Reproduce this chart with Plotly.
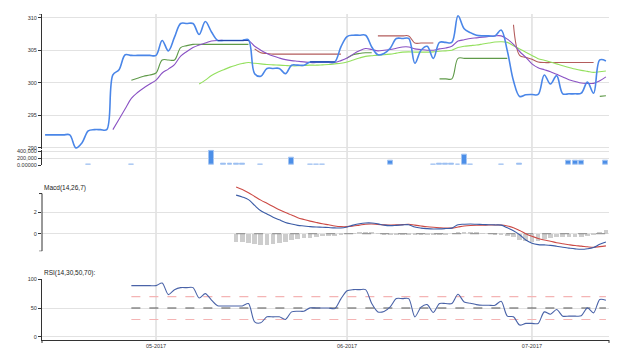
import plotly.graph_objects as go
import pandas as pd

# ---------------- data ----------------
dates = pd.date_range("2017-04-13", periods=92, freq="D")

price = [292.0, 292.0, 292.0, 292.0, 292.0, 290.0, 290.8, 292.6, 292.8, 292.8,
         292.8, 301.2, 302.0, 304.3, 304.2, 304.2, 304.2, 304.2, 304.2, 306.5,
         304.9, 307.0, 309.1, 309.1, 309.1, 307.4, 309.4, 307.8, 306.5, 306.5,
         306.5, 306.5, 306.5, 306.6, 301.4, 301.0, 302.2, 302.2, 302.2, 301.4,
         302.7, 302.7, 302.7, 303.2, 303.2, 303.2, 303.2, 303.2, 305.5, 307.1,
         307.3, 307.3, 307.3, 305.5, 304.3, 304.5, 305.3, 306.8, 306.8, 306.8,
         303.0, 305.0, 305.6, 303.75, 306.2, 306.2, 306.2, 310.3, 308.3, 307.7,
         307.3, 307.2, 307.2, 307.2, 308.1, 304.9, 300.3, 297.9, 298.15, 298.2,
         298.2, 301.2, 299.8, 301.1, 298.3, 298.3, 298.3, 298.4, 300.1, 298.4,
         303.5, 303.35]

purple_start = "2017-04-24"
purple = [292.8, 294.4, 296.0, 297.6, 298.5, 299.2, 299.8, 300.4, 301.5, 302.1,
          302.8, 304.1, 304.8, 305.4, 305.8, 306.1, 306.4, 306.5, 306.5, 306.5,
          306.5, 306.5, 306.5, 305.6, 305.0, 304.5, 304.1, 303.8, 303.55, 303.4,
          303.3, 303.2, 303.1, 303.1, 303.1, 303.1, 303.1, 303.4, 303.8, 304.4,
          304.9, 305.25, 305.1, 304.9, 305.0, 305.1, 305.3, 305.5, 305.5, 305.2,
          305.1, 305.0, 305.0, 305.2, 305.35, 305.6, 306.4, 306.6, 306.8, 306.9,
          307.0, 307.1, 307.2, 307.2, 306.7, 305.9, 304.8, 303.9, 302.9, 302.3,
          302.0, 301.7, 301.3, 300.9, 300.45, 300.2, 299.95, 299.9, 299.9, 300.3,
          300.9]

lightgreen_start = "2017-05-08"
lightgreen = [299.8, 300.4, 301.1, 301.6, 302.0, 302.4, 302.7, 302.95, 303.1, 303.0,
              302.9, 302.8, 302.75, 302.7, 302.65, 302.6, 302.6, 302.65, 302.7, 302.7,
              302.75, 302.8, 302.9, 303.0, 303.2, 303.5, 303.8, 304.05, 304.15, 304.25,
              304.3, 304.4, 304.55, 304.7, 304.75, 304.7, 304.7, 304.7, 304.75, 304.85,
              304.9, 305.0, 305.4, 305.6, 305.7, 305.8, 305.95, 306.1, 306.25, 306.3,
              306.2, 305.7, 305.2, 304.7, 304.2, 303.7, 303.45, 303.2, 302.9, 302.6,
              302.35, 302.1, 301.9, 301.75, 301.6, 301.7, 301.8]

darkgreen_segments = [
    ("2017-04-27", [300.4, 300.7, 301.0, 301.2, 301.5, 303.5, 303.5, 303.5, 305.4, 305.7,
                    305.9, 305.9, 305.9, 305.9, 305.9, 305.9, 305.9, 305.9, 305.9, 305.9]),
    ("2017-06-01", [303.8, 304.3, 304.5, 304.6, 304.6]),
    ("2017-06-16", [300.6, 300.6, 300.6, 303.75, 303.75, 303.75, 303.75, 303.75, 303.75,
                    303.75, 303.75, 303.75]),
    ("2017-07-12", [297.9, 298.0]),
]

brown_segments = [
    ("2017-05-17", [305.2, 304.6, 304.5, 304.4, 304.4, 304.4, 304.4, 304.4, 304.4, 304.4,
                    304.4, 304.4, 304.4, 304.4, 304.4]),
    ("2017-06-06", [307.2, 307.2, 307.2, 307.2, 307.2, 307.2, 306.1, 306.1, 306.1, 306.1]),
    ("2017-06-28", [308.9, 304.2, 303.9, 303.6, 303.2, 303.1, 303.1, 303.1, 303.1, 303.1,
                    303.1, 303.1, 303.1, 303.1]),
]

navy_segments = [
    ("2017-05-11", [306.5, 306.5, 306.5, 306.5, 306.5, 306.5]),
    ("2017-05-26", [303.2, 303.2, 303.2, 303.2, 303.2]),
]

vol_dates = ["2017-04-20", "2017-04-27", "2017-05-10", "2017-05-12", "2017-05-13",
             "2017-05-14", "2017-05-15", "2017-05-18", "2017-05-23", "2017-05-26",
             "2017-05-27", "2017-05-28", "2017-06-08", "2017-06-15", "2017-06-16",
             "2017-06-17", "2017-06-18", "2017-06-19", "2017-06-20", "2017-06-21",
             "2017-06-26", "2017-06-29", "2017-07-07", "2017-07-08", "2017-07-09",
             "2017-07-13"]
vol_values = [8000, 8000, 400000, 45000, 45000, 45000, 30000, 8000, 220000, 10000,
              10000, 10000, 135000, 25000, 50000, 50000, 50000, 20000, 300000, 10000,
              8000, 50000, 125000, 125000, 125000, 125000]

macd_start = "2017-05-14"
macd_line = [3.62, 3.45, 3.2, 2.65, 2.15, 1.85, 1.55, 1.3, 1.05, 0.9,
             0.78, 0.72, 0.66, 0.62, 0.6, 0.57, 0.54, 0.53, 0.63, 0.8,
             0.93, 1.0, 1.0, 0.92, 0.8, 0.75, 0.78, 0.82, 0.84, 0.62,
             0.52, 0.47, 0.44, 0.45, 0.48, 0.52, 0.84, 0.88, 0.9, 0.88,
             0.86, 0.84, 0.82, 0.8, 0.55, 0.28, -0.1, -0.6, -0.9, -1.03,
             -1.06, -1.1, -1.18, -1.28, -1.36, -1.43, -1.47, -1.42, -1.3, -1.0,
             -0.78]
macd_signal = [4.39, 4.15, 3.85, 3.5, 3.15, 2.85, 2.55, 2.25, 1.98, 1.75,
               1.5, 1.33, 1.18, 1.05, 0.93, 0.83, 0.72, 0.66, 0.66, 0.72,
               0.8, 0.88, 0.9, 0.86, 0.83, 0.81, 0.82, 0.85, 0.88, 0.8,
               0.72, 0.65, 0.6, 0.56, 0.53, 0.52, 0.62, 0.72, 0.77, 0.79,
               0.8, 0.81, 0.81, 0.81, 0.72, 0.56, 0.3, 0.0, -0.25, -0.45,
               -0.6, -0.72, -0.85, -0.95, -1.04, -1.12, -1.17, -1.24, -1.28, -1.22,
               -1.15]
macd_hist = [-0.75, -0.75, -0.84, -1.0, -1.05, -1.05, -0.93, -0.84, -0.75, -0.62,
             -0.53, -0.44, -0.37, -0.31, -0.25, -0.22, -0.19, -0.12, 0.0, 0.06,
             0.12, 0.12, 0.1, 0.05, -0.03, -0.05, -0.04, -0.03, -0.04, -0.06,
             -0.06, -0.05, -0.04, -0.03, -0.03, 0.0, 0.12, 0.14, 0.12, 0.09,
             0.05, -0.02, -0.03, -0.04, -0.2, -0.35, -0.62, -0.72, -0.8, -0.7,
             -0.5, -0.38, -0.3, -0.3, -0.3, -0.29, -0.28, -0.22, -0.05, 0.2,
             0.32]

rsi_start = "2017-04-27"
rsi = [89.1, 89.1, 89.1, 89.1, 89.1, 93.6, 73.5, 82.0, 85.6, 85.6,
       85.6, 67.6, 75.2, 64.0, 54.0, 53.7, 53.7, 53.7, 53.7, 57.9,
       26.0, 24.3, 34.7, 34.7, 34.7, 30.2, 43.3, 44.5, 44.5, 50.3,
       50.0, 50.0, 50.0, 49.0, 66.0, 80.0, 82.1, 82.1, 82.1, 58.0,
       43.3, 44.0, 52.0, 66.5, 66.5, 66.5, 34.7, 51.5, 56.0, 42.3,
       57.9, 57.9, 57.9, 74.0, 60.5, 58.5, 56.0, 54.9, 54.9, 54.9,
       61.9, 36.0, 34.7, 20.3, 23.2, 23.2, 23.2, 43.3, 39.3, 47.5,
       35.9, 35.9, 35.9, 36.5, 50.3, 41.6, 64.8, 63.6]
rsi_levels = [70, 50, 30]

price_ticks = [290, 295, 300, 305, 310]
vol_ticks = [0, 200000, 400000]
vol_ticktext = ["0.00000", "200,000", "400,000"]
macd_ticks = [0, 2]
rsi_ticks = [0, 50, 100]
month_ticks = ["2017-05-01", "2017-06-01", "2017-07-01"]
month_labels = ["05-2017", "06-2017", "07-2017"]


# ---------------- helpers ----------------
def run(start, values):
    i = dates.get_loc(pd.Timestamp(start))
    return list(dates[i:i + len(values)]), list(values)


def segs(segments):
    xs, ys = [], []
    for start, vals in segments:
        x, y = run(start, vals)
        xs += x + [None]
        ys += y + [None]
    return xs, ys


DAY = 86400000
fig = go.Figure()

# price panel
for segments, color, w in [(darkgreen_segments, "#5f9a49", 1.1),
                           (brown_segments, "#b35c5c", 1.1)]:
    x, y = segs(segments)
    fig.add_trace(go.Scatter(x=x, y=y, mode="lines", connectgaps=False,
                             line=dict(color=color, width=w, shape="spline"),
                             xaxis="x", yaxis="y"))
x, y = run(lightgreen_start, lightgreen)
fig.add_trace(go.Scatter(x=x, y=y, mode="lines",
                         line=dict(color="#94e05e", width=1.1, shape="spline"),
                         xaxis="x", yaxis="y"))
x, y = run(purple_start, purple)
fig.add_trace(go.Scatter(x=x, y=y, mode="lines",
                         line=dict(color="#8a52c4", width=1.1, shape="spline"),
                         xaxis="x", yaxis="y"))
fig.add_trace(go.Scatter(x=list(dates), y=price, mode="lines",
                         line=dict(color="#4a86e8", width=1.6, shape="spline"),
                         xaxis="x", yaxis="y"))
x, y = segs(navy_segments)
fig.add_trace(go.Scatter(x=x, y=y, mode="lines", connectgaps=False,
                         line=dict(color="#2846a8", width=1.1),
                         xaxis="x", yaxis="y"))

# volume
fig.add_trace(go.Bar(x=vol_dates, y=vol_values, width=0.8 * DAY,
                     marker=dict(color="#4c8fe8", line=dict(color="#a6c6f2", width=1)),
                     xaxis="x", yaxis="y2"))

# MACD
x, y = run(macd_start, macd_hist)
fig.add_trace(go.Bar(x=x, y=y, width=0.75 * DAY,
                     marker=dict(color="#cdcdcd", line=dict(width=0)),
                     xaxis="x", yaxis="y3"))
fig.add_trace(go.Scatter(x=[x[0], x[-1]], y=[0, 0], mode="lines",
                         line=dict(color="#9a9a9a", width=1.2, dash="dash"),
                         xaxis="x", yaxis="y3"))
x, y = run(macd_start, macd_signal)
fig.add_trace(go.Scatter(x=x, y=y, mode="lines",
                         line=dict(color="#cc4a45", width=1.1, shape="spline"),
                         xaxis="x", yaxis="y3"))
x, y = run(macd_start, macd_line)
fig.add_trace(go.Scatter(x=x, y=y, mode="lines",
                         line=dict(color="#3b5ca6", width=1.1, shape="spline"),
                         xaxis="x", yaxis="y3"))

# RSI
xr, yr = run(rsi_start, rsi)
for lvl in rsi_levels:
    fig.add_trace(go.Scatter(x=[xr[0], xr[-1]], y=[lvl, lvl], mode="lines",
                             line=dict(color="#555555" if lvl == 50 else "#f4b4b4",
                                       width=1.1, dash="dash"),
                             xaxis="x", yaxis="y4"))
fig.add_trace(go.Scatter(x=xr, y=yr, mode="lines",
                         line=dict(color="#4a63a8", width=1.1, shape="spline", smoothing=0.8),
                         xaxis="x", yaxis="y4"))

# ---------------- layout ----------------
tickfont = dict(size=5.5, color="#333", family="Liberation Sans, Arial, sans-serif")
yax = dict(showline=True, linecolor="#333", linewidth=1, ticks="outside", ticklen=3,
           tickcolor="#333", tickwidth=1, gridcolor="#e2e2e2", gridwidth=1.4,
           zeroline=False, tickfont=tickfont, anchor="x", fixedrange=True)

PRICE_RANGE = [289.8, 310.56]
MACD_RANGE = [-1.654, 4.673]
RSI_RANGE = [-5.7, 101.2]

# page body has an 8px default margin; the figure is sized so it fits the window
fig.update_layout(
    width=614, height=348,
    margin=dict(l=34, r=13, t=4, b=16),
    paper_bgcolor="white", plot_bgcolor="white",
    showlegend=False, barmode="overlay", bargap=0,
    font=dict(family="Liberation Sans, Arial, sans-serif", size=6, color="#333"),
    xaxis=dict(type="date", range=["2017-04-12 12:00", "2017-07-13 12:00"],
               anchor="y4", showline=True, linecolor="#333", linewidth=1,
               showgrid=False, zeroline=False, ticks="",
               tickvals=month_ticks, ticktext=month_labels, tickfont=tickfont),
    yaxis=dict(yax, domain=[0.5854, 1.0], range=PRICE_RANGE, tickvals=price_ticks),
    yaxis2=dict(yax, domain=[0.5366, 0.5838], range=[0, 443000],
                tickvals=vol_ticks, ticktext=vol_ticktext),
    yaxis3=dict(yax, domain=[0.2723, 0.4787], range=MACD_RANGE,
                tickvals=macd_ticks, showline=False),
    yaxis4=dict(yax, domain=[0.0, 0.1881], range=RSI_RANGE, tickvals=rsi_ticks),
)

shapes = []
for m in month_ticks:
    shapes.append(dict(type="line", xref="x", yref="paper", x0=m, x1=m, y0=0, y1=1,
                       line=dict(color="#dcdcdc", width=1.4), layer="below"))
tk = 3 / 567.0
# MACD axis line with end ticks
shapes.append(dict(type="line", xref="paper", yref="y3", x0=0, x1=0, y0=MACD_RANGE[0], y1=3.77,
                   line=dict(color="#333", width=1)))
for yv in [MACD_RANGE[0], 3.77]:
    shapes.append(dict(type="line", xref="paper", yref="y3", x0=-tk, x1=0, y0=yv, y1=yv,
                       line=dict(color="#333", width=1)))
# price top end tick
shapes.append(dict(type="line", xref="paper", yref="y", x0=-tk, x1=0,
                   y0=PRICE_RANGE[1], y1=PRICE_RANGE[1], line=dict(color="#333", width=1)))
# x axis end ticks
for xv in [0, 1]:
    shapes.append(dict(type="line", xref="paper", yref="paper", x0=xv, x1=xv, y0=0, y1=-3 / 328.0,
                       line=dict(color="#333", width=1)))
fig.update_layout(shapes=shapes)

fig.add_annotation(text="Macd(14,26,7)", xref="paper", yref="paper", x=0, y=0.4665,
                   xanchor="left", yanchor="middle", showarrow=False,
                   font=dict(size=6.5, color="#222"))
fig.add_annotation(text="RSI(14,30,50,70):", xref="paper", yref="paper", x=0, y=0.2064,
                   xanchor="left", yanchor="middle", showarrow=False,
                   font=dict(size=6.5, color="#222"))

fig.write_html("out.html")
